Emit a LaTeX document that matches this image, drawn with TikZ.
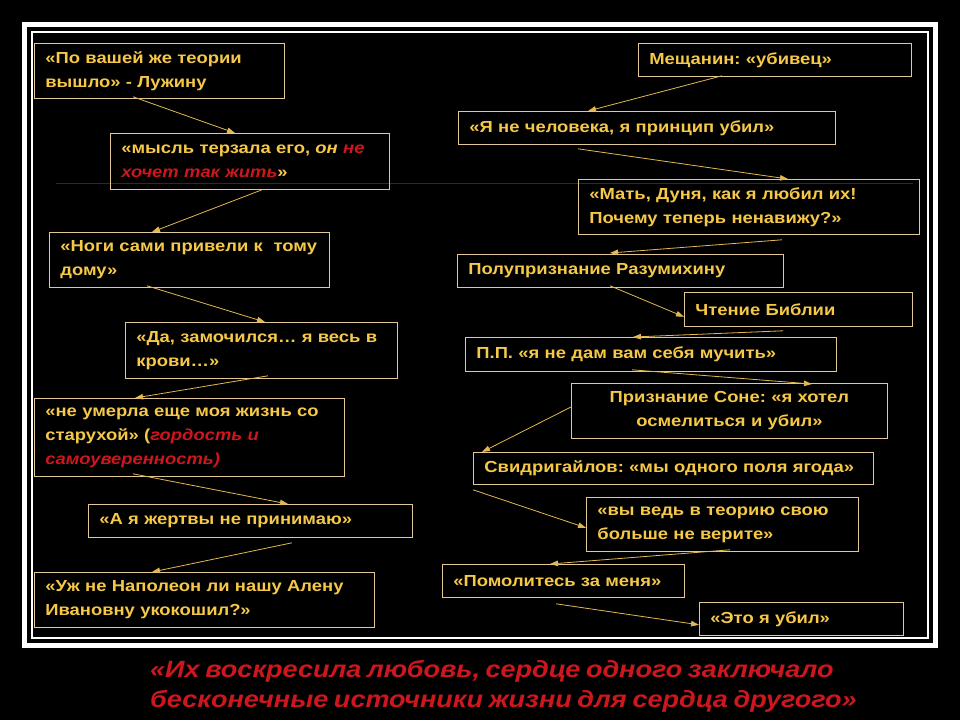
\documentclass[tikz,border=0pt]{standalone}
\usepackage{fontspec}
\setmainfont[FakeStretch=1.15,WordSpace=0.75]{Liberation Sans}
\usetikzlibrary{arrows.meta,calc}
\definecolor{gold}{RGB}{245,200,72}
\definecolor{edge}{RGB}{225,200,150}
\definecolor{arrc}{RGB}{225,185,80}
\definecolor{txtred}{RGB}{205,22,30}
\definecolor{linered}{RGB}{120,10,10}
\newcommand\oneline[1]{\mbox{#1}}
\frenchspacing
\begin{document}
\begin{tikzpicture}[x=1pt,y=-1pt,
  box/.style={draw=edge, line width=0.8pt, text=gold,
    font=\bfseries\fontsize{16pt}{24pt}\selectfont,
    inner xsep=11pt, inner ysep=0pt, anchor=north west, align=left},
  arr/.style={draw=arrc, line width=0.8pt, -{Triangle[length=8pt,width=5.5pt]}}]
\fill[black] (0,0) rectangle (960,720);
\useasboundingbox (0,0) rectangle (960,720);
\draw[white, line width=5pt] (24.5,24.5) rectangle (935.5,645);
\draw[white, line width=1.2pt] (32,32) rectangle (928,638);
\draw[linered, line width=0.8pt] (56,183) -- (913,183);

% left column
\node[box, text width=228pt, minimum height=55pt] (b1) at (34,43) {\oneline{«По вашей же теории}\\\oneline{вышло» - Лужину}};
\node[box, text width=257pt, minimum height=56pt] (b2) at (110,133) {\oneline{«мысль терзала его, \textit{он \textcolor{txtred}{не}}}\\\oneline{\textcolor{txtred}{\textit{хочет так жить}}»}};
\node[box, text width=258pt, minimum height=55pt] (b3) at (49,232) {\oneline{«Ноги сами привели к\ \ тому}\\\oneline{дому»}};
\node[box, text width=250pt, minimum height=56pt] (b4) at (125,322) {\oneline{«Да, замочился… я весь в}\\\oneline{крови…»}};
\node[box, text width=288pt, minimum height=78pt] (b5) at (34,398) {\oneline{«не умерла еще моя жизнь со}\\\oneline{старухой» (\textcolor{txtred}{\textit{гордость и}}}\\\oneline{\textcolor{txtred}{\textit{самоуверенность)}}}};
\node[box, text width=302pt, minimum height=33pt] (b6) at (88,504) {\oneline{«А я жертвы не принимаю»}};
\node[box, text width=318pt, minimum height=55pt] (b7) at (34,572) {\oneline{«Уж не Наполеон ли нашу Алену}\\\oneline{Ивановну укокошил?»}};

% right column
\node[box, text width=251pt, minimum height=33pt] (b8) at (638,43) {\oneline{Мещанин: «убивец»}};
\node[box, text width=355pt, minimum height=33pt] (b9) at (458,111) {\oneline{«Я не человека, я принцип убил»}};
\node[box, text width=319pt, minimum height=55pt] (b10) at (578,179) {\oneline{«Мать, Дуня, как я любил их!}\\\oneline{Почему теперь ненавижу?»}};
\node[box, text width=304pt, minimum height=33pt] (b11) at (457,254) {\oneline{Полупризнание Разумихину}};
\node[box, text width=206pt, minimum height=34pt] (b12) at (684,292) {\oneline{Чтение Библии}};
\node[box, text width=349pt, minimum height=34pt] (b13) at (465,337) {\oneline{П.П. «я не дам вам себя мучить»}};
\node[box, text width=294pt, minimum height=55pt, align=center] (b14) at (571,383) {Признание Соне: «я хотел\\осмелиться и убил»};
\node[box, text width=378pt, minimum height=32pt] (b15) at (473,452) {\oneline{Свидригайлов: «мы одного поля ягода»}};
\node[box, text width=250pt, minimum height=54pt] (b16) at (586,497) {\oneline{«вы ведь в теорию свою}\\\oneline{больше не верите»}};
\node[box, text width=220pt, minimum height=33pt] (b17) at (442,564) {\oneline{«Помолитесь за меня»}};
\node[box, text width=182pt, minimum height=33pt] (b18) at (699,602) {\oneline{«Это я убил»}};

% left arrows
\draw[arr] ($(b1.south west)+(99,-2)$) -- ($(b2.north west)+(125,0)$);
\draw[arr] ($(b2.south west)+(152,0)$) -- ($(b3.north west)+(103,0)$);
\draw[arr] ($(b3.south west)+(98,-2)$) -- ($(b4.north west)+(140,0)$);
\draw[arr] ($(b4.south west)+(143,-3)$) -- ($(b5.north west)+(101,0)$);
\draw[arr] ($(b5.south west)+(99,-3)$) -- ($(b6.north west)+(200,0)$);
\draw[arr] ($(b6.south west)+(204,5)$) -- ($(b7.north west)+(118,0)$);

% right arrows
\draw[arr] ($(b8.south west)+(84,-1)$) -- ($(b9.north west)+(130,0)$);
\draw[arr] ($(b9.south west)+(120,4)$) -- ($(b10.north west)+(210,0)$);
\draw[arr] ($(b10.south west)+(204,5)$) -- ($(b11.north west)+(153,-1)$);
\draw[arr] ($(b11.south west)+(153,-2)$) -- ($(b12.south west)+(0,-10)$);
\draw[arr] ($(b12.south west)+(99,4)$) -- ($(b13.north west)+(168,0)$);
\draw[arr] ($(b13.south west)+(167,-2)$) -- ($(b14.north west)+(241,1)$);
\draw[arr] ($(b14.north west)+(0,24)$) -- ($(b15.north west)+(9,0)$);
\draw[arr] ($(b15.south west)+(0,5)$) -- ($(b16.south west)+(0,-24)$);
\draw[arr] ($(b16.south west)+(144,-2)$) -- ($(b17.north west)+(108,0)$);
\draw[arr] ($(b17.south west)+(114,6)$) -- ($(b18.south west)+(0,-11)$);

% closing quote
\node[font=\bfseries\itshape\fontsize{23.5pt}{30pt}\selectfont, text=txtred, align=left, anchor=west, inner sep=0pt] (quote) at (150,686) {«Их воскресила любовь, сердце одного заключало\\бесконечные источники жизни для сердца другого»};
\end{tikzpicture}
\end{document}
